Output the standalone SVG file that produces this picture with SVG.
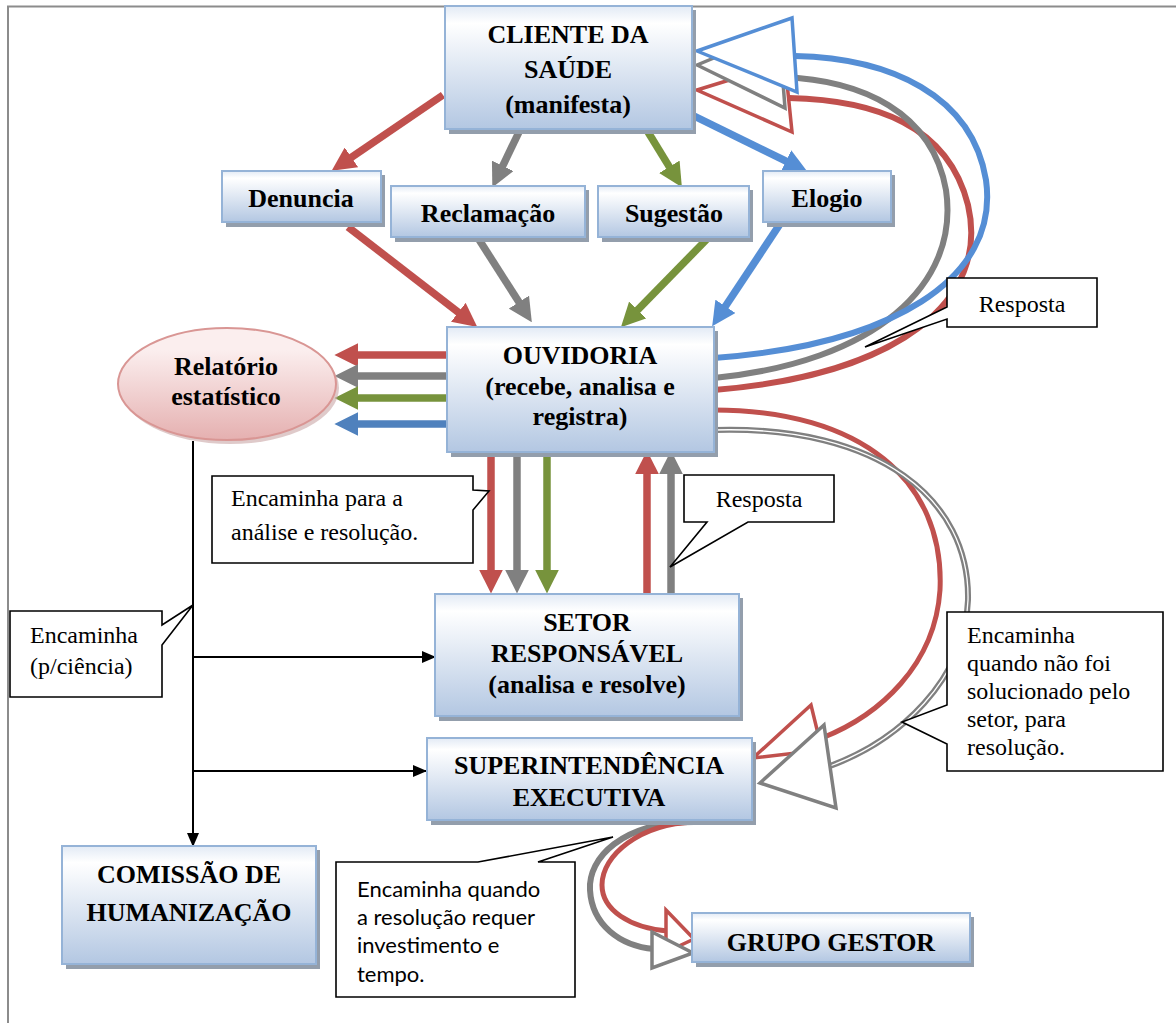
<svg xmlns="http://www.w3.org/2000/svg" width="1176" height="1023" viewBox="0 0 1176 1023">
  <defs>
    <linearGradient id="boxFill" x1="0" y1="0" x2="0" y2="1">
      <stop offset="0" stop-color="#e2eaf5"/>
      <stop offset="0.14" stop-color="#ffffff"/>
      <stop offset="1" stop-color="#b3c7e2"/>
    </linearGradient>
    <linearGradient id="ovalFill" x1="0" y1="0" x2="0" y2="1">
      <stop offset="0" stop-color="#fbeeee"/>
      <stop offset="0.2" stop-color="#fbeeee"/>
      <stop offset="1" stop-color="#e5b0b0"/>
    </linearGradient>
    <marker id="hRed" viewBox="0 0 10 10" refX="1" refY="5" markerWidth="3.2" markerHeight="3.2" orient="auto"><path d="M0 0L10 5L0 10z" fill="#c0504d"/></marker>
    <marker id="hGray" viewBox="0 0 10 10" refX="1" refY="5" markerWidth="3.2" markerHeight="3.2" orient="auto"><path d="M0 0L10 5L0 10z" fill="#808080"/></marker>
    <marker id="hGreen" viewBox="0 0 10 10" refX="1" refY="5" markerWidth="3.2" markerHeight="3.2" orient="auto"><path d="M0 0L10 5L0 10z" fill="#77933c"/></marker>
    <marker id="hBlue" viewBox="0 0 10 10" refX="1" refY="5" markerWidth="3.2" markerHeight="3.2" orient="auto"><path d="M0 0L10 5L0 10z" fill="#558ed5"/></marker>
    <marker id="hBlueDark" viewBox="0 0 10 10" refX="1" refY="5" markerWidth="3.2" markerHeight="3.2" orient="auto"><path d="M0 0L10 5L0 10z" fill="#4f81bd"/></marker>
    <marker id="hBlack" viewBox="0 0 14 12" refX="13" refY="6" markerWidth="14" markerHeight="12" markerUnits="userSpaceOnUse" orient="auto"><path d="M0 0L14 6L0 12z" fill="#000"/></marker>
  </defs>
  <style>
    .frame { fill: none; stroke: #8c8c8c; stroke-width: 2; }
    .shadow { fill: #939eac; }
    .box { fill: url(#boxFill); stroke: #95b3d7; stroke-width: 2; }
    .title { font-family: 'Liberation Serif', 'Times New Roman', serif; font-weight: bold; font-size: 26px; fill: #000; text-anchor: middle; }
    .note { font-family: 'Liberation Serif', 'Times New Roman', serif; font-size: 24px; fill: #000; }
    .noteSans { font-family: Lato, 'Open Sans', sans-serif; font-size: 22px; fill: #000; }
    .callout { fill: #fff; stroke: #000; stroke-width: 1.6; }
    .thick { fill: none; stroke-width: 7.5; }
    .red { stroke: #c0504d; }
    .gray { stroke: #808080; }
    .green { stroke: #77933c; }
    .blue { stroke: #558ed5; }
    .blueDark { stroke: #4f81bd; }
    .curve { fill: none; stroke-width: 6; }
    .curveThin { fill: none; stroke-width: 5; }
    .core { fill: none; stroke: #fff; stroke-width: 1.3; }
    .open { fill: #fff; stroke-width: 3.5; stroke-linejoin: miter; }
    .thin { fill: none; stroke: #000; stroke-width: 2; }
  </style>

  <!-- page frame -->
  <path class="frame" d="M8 1023V6.5H1176"/>

  <!-- connectors -->
  <g id="connectors">
    <!-- client to categories -->
    <line class="thick red" x1="443" y1="95" x2="349.5" y2="158.7" marker-end="url(#hRed)"/>
    <line class="thick gray" x1="519" y1="132" x2="501.7" y2="168" marker-end="url(#hGray)"/>
    <line class="thick green" x1="648" y1="132" x2="670.6" y2="168.9" marker-end="url(#hGreen)"/>
    <line class="thick blue" x1="694" y1="116" x2="788.1" y2="162.2" marker-end="url(#hBlue)"/>

    <!-- categories to ouvidoria -->
    <line class="thick red" x1="348" y1="227" x2="460.2" y2="313.8" marker-end="url(#hRed)"/>
    <line class="thick gray" x1="478" y1="238" x2="520.2" y2="304.1" marker-end="url(#hGray)"/>
    <line class="thick green" x1="708" y1="238" x2="636" y2="311.7" marker-end="url(#hGreen)"/>
    <line class="thick blue" x1="780" y1="224" x2="724.1" y2="308.3" marker-end="url(#hBlue)"/>

    <!-- ouvidoria to statistics report -->
    <line class="thick red" x1="447" y1="355" x2="356" y2="355" marker-end="url(#hRed)"/>
    <line class="thick gray" x1="447" y1="376" x2="356" y2="376" marker-end="url(#hGray)"/>
    <line class="thick green" x1="447" y1="398" x2="356" y2="398" marker-end="url(#hGreen)"/>
    <line class="thick blueDark" x1="447" y1="424" x2="356" y2="424" marker-end="url(#hBlueDark)"/>

    <!-- ouvidoria down to setor -->
    <line class="thick red" x1="491" y1="453" x2="491" y2="572" marker-end="url(#hRed)"/>
    <line class="thick gray" x1="517" y1="453" x2="517" y2="572" marker-end="url(#hGray)"/>
    <line class="thick green" x1="547" y1="453" x2="547" y2="572" marker-end="url(#hGreen)"/>
    <!-- setor answers back -->
    <line class="thick red" x1="647" y1="594" x2="647" y2="472" marker-end="url(#hRed)"/>
    <line class="thick gray" x1="671" y1="594" x2="671" y2="472" marker-end="url(#hGray)"/>

    <!-- answers from ouvidoria back to the client -->
    <path class="curve red" d="M714 390C900 375 990 300 968 205C948 125 875 100 789 98"/>
    <path class="curve gray" d="M714 378C875 362 960 285 946 190C932 112 862 80 782 77"/>
    <path class="curve blue" d="M714 358C890 345 1000 280 986 180C972 95 890 58 795 56"/>
    <polygon class="open red" points="697,90 785,63 792,132"/>
    <polygon class="open gray" points="697,65 779,31 785,108"/>
    <polygon class="open blue" points="697,51 792,18 797,92"/>

    <!-- escalation to superintendencia -->
    <path class="curveThin red" d="M714 410C860 410 945 480 940 590C935 665 880 715 822 738"/>
    <path class="curve gray" d="M714 430C880 425 970 500 968 600C965 680 900 740 830 766"/>
    <path class="core" d="M714 430C880 425 970 500 968 600C965 680 900 740 830 766"/>
    <polygon class="open red" points="753,758 811,705 822,750"/>
    <polygon class="open gray" points="760,783 824,725 836,808"/>

    <!-- superintendencia to grupo gestor -->
    <path class="curve gray" d="M694 822C622 822 588 858 590 890C592 925 620 946 654 949"/>
    <path class="curveThin red" d="M694 822C640 824 602 855 602 885C602 910 630 928 668 931"/>
    <polygon class="open red" points="666,910 694,939 666,952"/>
    <polygon class="open gray" points="652,932 693,953 652,968"/>

    <!-- report distribution (thin black) -->
    <line class="thin" x1="193" y1="441" x2="193" y2="846" marker-end="url(#hBlack)"/>
    <line class="thin" x1="193" y1="657" x2="435" y2="657" marker-end="url(#hBlack)"/>
    <line class="thin" x1="193" y1="771" x2="426" y2="771" marker-end="url(#hBlack)"/>
  </g>

  <!-- nodes -->
  <g id="cliente">
    <rect class="shadow" x="449" y="10" width="247" height="124"/>
    <rect class="box" x="445" y="6" width="247" height="123"/>
    <text class="title" x="568" y="43">CLIENTE DA</text>
    <text class="title" x="568" y="78">SAÚDE</text>
    <text class="title" x="568" y="113">(manifesta)</text>
  </g>

  <g id="denuncia">
    <rect class="shadow" x="226" y="175" width="159" height="52"/>
    <rect class="box" x="222" y="171" width="159" height="51"/>
    <text class="title" x="301" y="207">Denuncia</text>
  </g>

  <g id="reclamacao">
    <rect class="shadow" x="395" y="190" width="194" height="52"/>
    <rect class="box" x="391" y="186" width="194" height="51"/>
    <text class="title" x="488" y="222">Reclamação</text>
  </g>

  <g id="sugestao">
    <rect class="shadow" x="602" y="190" width="151" height="52"/>
    <rect class="box" x="598" y="186" width="151" height="51"/>
    <text class="title" x="674" y="222">Sugestão</text>
  </g>

  <g id="elogio">
    <rect class="shadow" x="767" y="175" width="128" height="52"/>
    <rect class="box" x="763" y="171" width="128" height="51"/>
    <text class="title" x="827" y="207">Elogio</text>
  </g>

  <g id="ouvidoria">
    <rect class="shadow" x="451" y="331" width="267" height="126"/>
    <rect class="box" x="447" y="327" width="267" height="125"/>
    <text class="title" x="580" y="364">OUVIDORIA</text>
    <text class="title" x="580" y="395">(recebe, analisa e</text>
    <text class="title" x="580" y="425">registra)</text>
  </g>

  <g id="relatorio">
    <ellipse cx="230" cy="388" rx="109" ry="56" fill="#c9a7a7" opacity="0.6"/>
    <ellipse cx="227" cy="384" rx="109" ry="56" fill="url(#ovalFill)" stroke="#d99694" stroke-width="2"/>
    <text class="title" x="226" y="375">Relatório</text>
    <text class="title" x="226" y="405">estatístico</text>
  </g>

  <g id="setor">
    <rect class="shadow" x="439" y="598" width="304" height="123"/>
    <rect class="box" x="435" y="594" width="304" height="122"/>
    <text class="title" x="587" y="631">SETOR</text>
    <text class="title" x="587" y="662">RESPONSÁVEL</text>
    <text class="title" x="587" y="693">(analisa e resolve)</text>
  </g>

  <g id="superintendencia">
    <rect class="shadow" x="431" y="742" width="325" height="83"/>
    <rect class="box" x="427" y="738" width="325" height="82"/>
    <text class="title" x="589" y="774">SUPERINTENDÊNCIA</text>
    <text class="title" x="589" y="806">EXECUTIVA</text>
  </g>

  <g id="comissao">
    <rect class="shadow" x="66" y="850" width="254" height="119"/>
    <rect class="box" x="62" y="846" width="254" height="118"/>
    <text class="title" x="189" y="883">COMISSÃO DE</text>
    <text class="title" x="189" y="921">HUMANIZAÇÃO</text>
  </g>

  <g id="grupo-gestor">
    <rect class="shadow" x="696" y="917" width="278" height="50"/>
    <rect class="box" x="692" y="913" width="278" height="49"/>
    <text class="title" x="831" y="951">GRUPO GESTOR</text>
  </g>

  <!-- callouts -->
  <g id="callout-resposta-cliente">
    <path class="callout" d="M947 278H1097V327H947V319L865 347L947 307Z"/>
    <text class="note" x="1022" y="312" text-anchor="middle">Resposta</text>
  </g>

  <g id="callout-encaminha-analise">
    <path class="callout" d="M212 476H473V490L489 491L473 510V563H212Z"/>
    <text class="note" x="231" y="506">Encaminha para a</text>
    <text class="note" x="231" y="540">análise e resolução.</text>
  </g>

  <g id="callout-resposta-setor">
    <path class="callout" d="M684 475H834V522H748L670 567L707 522H684Z"/>
    <text class="note" x="759" y="507" text-anchor="middle">Resposta</text>
  </g>

  <g id="callout-ciencia">
    <path class="callout" d="M10 611H162V625L193 605L162 645V697H10Z"/>
    <text class="note" x="30" y="643">Encaminha</text>
    <text class="note" x="30" y="674">(p/ciência)</text>
  </g>

  <g id="callout-nao-solucionado">
    <path class="callout" d="M947 612H1163V771H947V744L902 722L947 705Z"/>
    <text class="note" x="967" y="643">Encaminha</text>
    <text class="note" x="967" y="671">quando não foi</text>
    <text class="note" x="967" y="699">solucionado pelo</text>
    <text class="note" x="967" y="727">setor, para</text>
    <text class="note" x="967" y="755">resolução.</text>
  </g>

  <g id="callout-investimento">
    <path class="callout" d="M336 862H478L613 837L538 862H575V997H336Z"/>
    <text class="noteSans" x="357" y="897">Encaminha quando</text>
    <text class="noteSans" x="357" y="925">a resolução requer</text>
    <text class="noteSans" x="357" y="953">investimento e</text>
    <text class="noteSans" x="357" y="982">tempo.</text>
  </g>
</svg>
